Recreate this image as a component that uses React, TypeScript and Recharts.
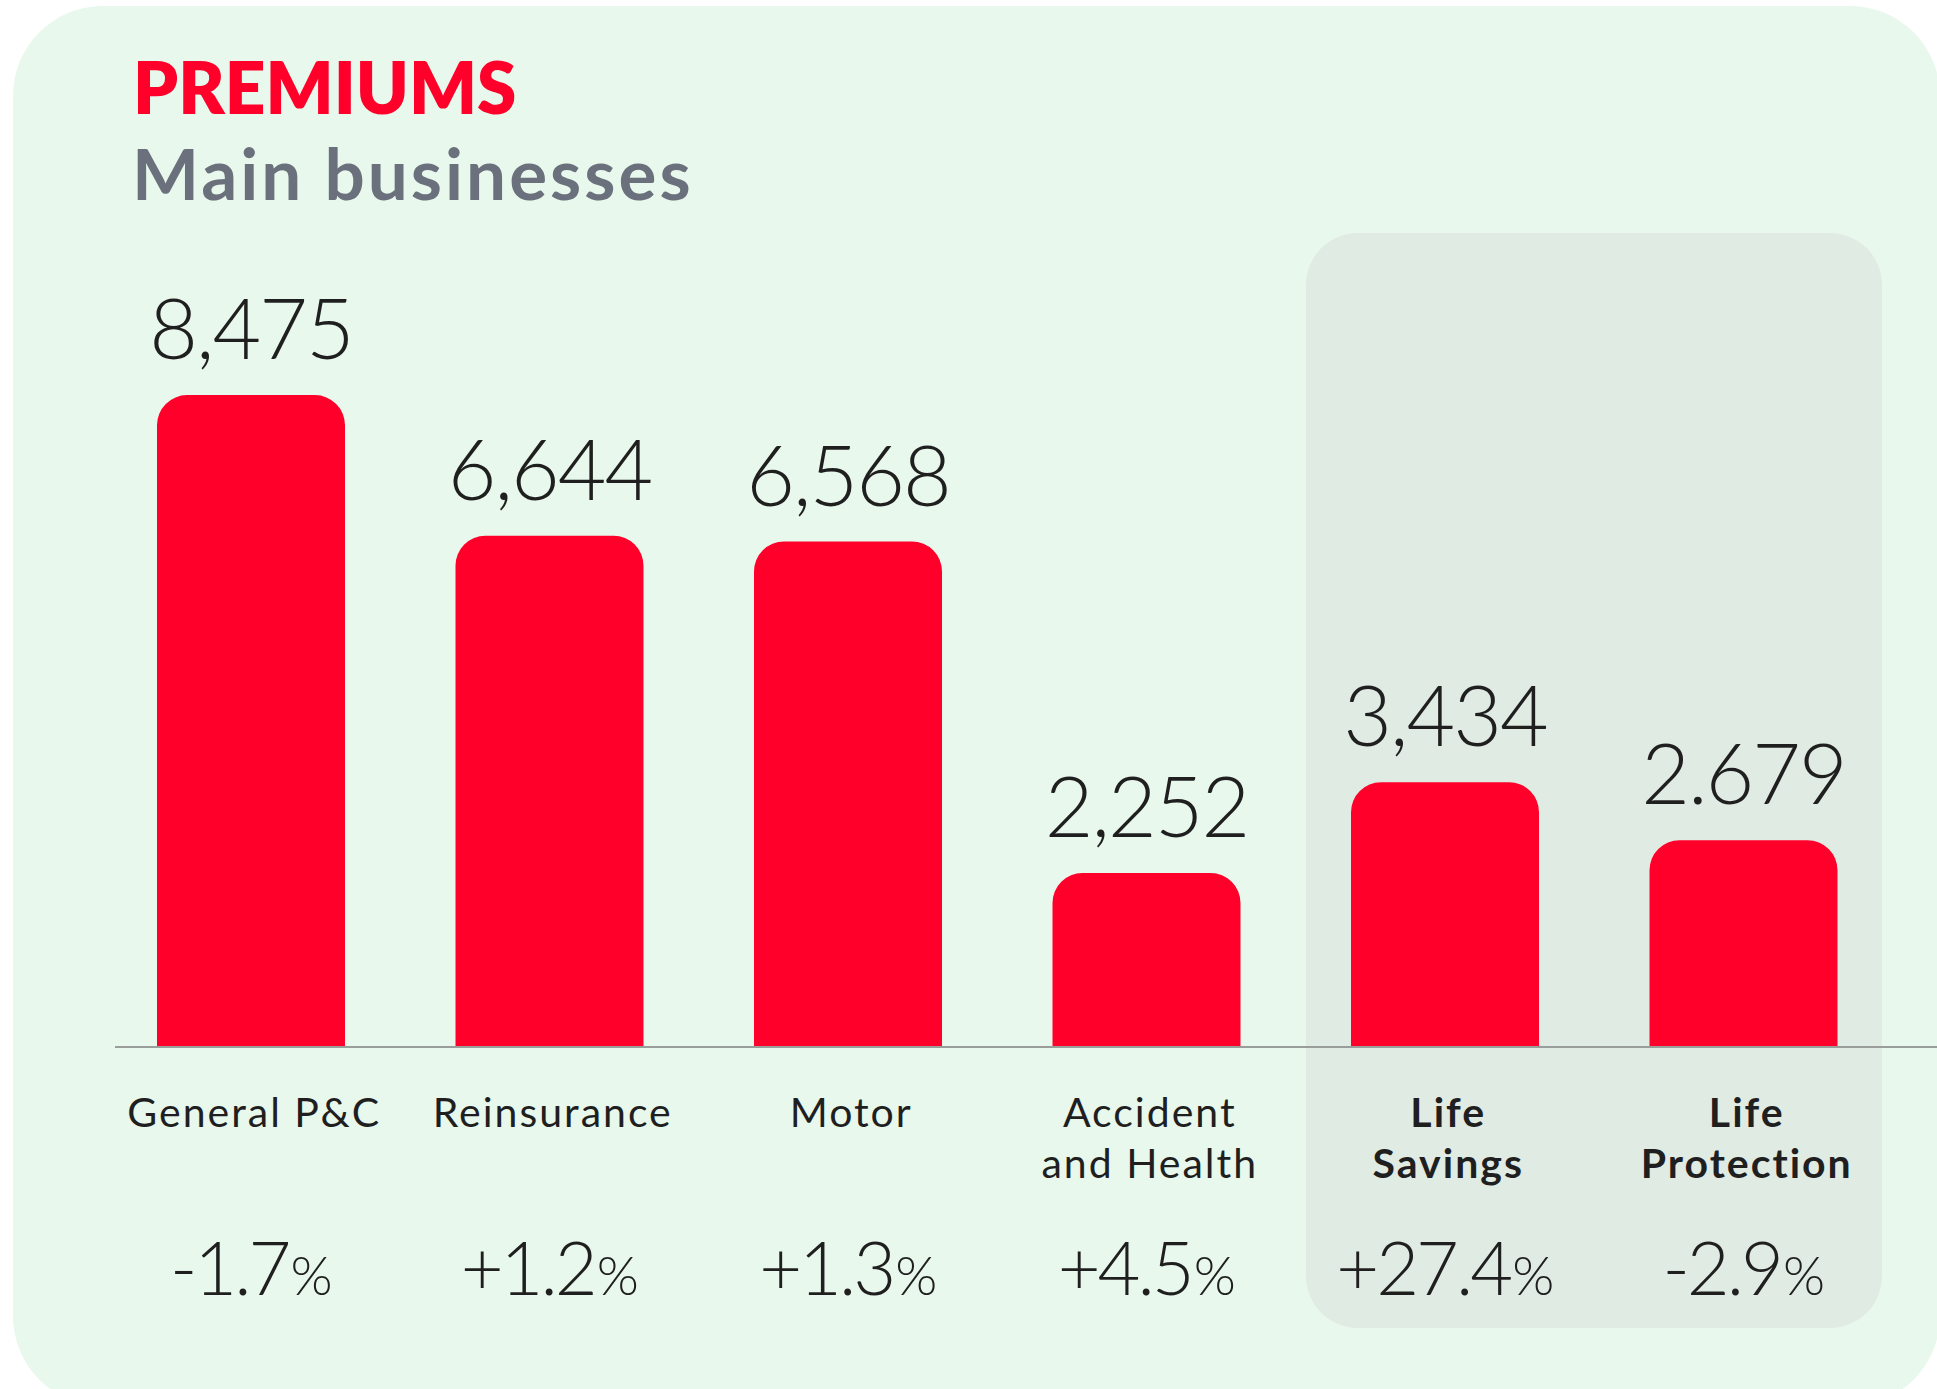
import React from 'react';
import { BarChart, Bar, XAxis, YAxis, LabelList } from 'recharts';

// Premiums by main business line
const categories = ['General P&C', 'Reinsurance', 'Motor', 'Accident\nand Health', 'Life\nSavings', 'Life\nProtection'];
const premiums = [8475, 6644, 6568, 2252, 3434, 2679];
const valueLabels = ['8,475', '6,644', '6,568', '2,252', '3,434', '2.679'];
const changes = ['-1.7', '+1.2', '+1.3', '+4.5', '+27.4', '-2.9'];
const boldCategories = ['Life\nSavings', 'Life\nProtection'];

const RED = '#ff002b';
const TEXT = '#1f1f1f';
const FONT = 'Lato, "Open Sans", sans-serif';

const data = categories.map((name, i) => ({
  name,
  value: premiums[i],
  label: valueLabels[i],
  change: changes[i],
}));

function CategoryTick(props: any) {
  const { x, y, payload, index } = props;
  const lines = String(payload.value).split('\n');
  const bold = boldCategories.includes(payload.value);
  return (
    <g>
      <text
        x={x}
        y={y}
        textAnchor="middle"
        fill={TEXT}
        fontFamily={FONT}
        fontSize={41}
        fontWeight={bold ? 700 : 400}
        letterSpacing={2}
      >
        {lines.map((line, i) => (
          <tspan key={i} x={x + 3} dy={i === 0 ? 81 : 51}>
            {line}
          </tspan>
        ))}
      </text>
      <text x={x} y={y + 249} textAnchor="middle" fill={TEXT} fontFamily={FONT} fontWeight={300}>
        <tspan fontSize={74} letterSpacing={-3}>{changes[index]}</tspan>
        <tspan fontSize={54} dx={2}>%</tspan>
      </text>
    </g>
  );
}

function ValueLabel(props: any) {
  const { x, y, width, value } = props;
  return (
    <text
      x={x + width / 2}
      y={y - 36}
      textAnchor="middle"
      fill={TEXT}
      fontFamily={FONT}
      fontWeight={300}
      fontSize={84}
      letterSpacing={-2}
    >
      {value}
    </text>
  );
}

export default function App() {
  return (
    <div
      style={{
        position: 'fixed',
        left: 0,
        top: 0,
        width: 1937,
        height: 1389,
        overflow: 'hidden',
        background: '#ffffff',
        fontFamily: FONT,
      }}
    >
      <div
        style={{
          position: 'absolute',
          left: 13,
          top: 6,
          width: 1927,
          height: 1400,
          borderRadius: 90,
          background: '#e8f8ec',
        }}
      />
      <div
        style={{
          position: 'absolute',
          left: 1306,
          top: 233,
          width: 576,
          height: 1095,
          borderRadius: 52,
          background: '#e0ebe3',
        }}
      />
      <div
        style={{
          position: 'absolute',
          left: 133,
          top: 47,
          fontSize: 71,
          fontWeight: 800,
          color: RED,
          lineHeight: '80px',
        }}
      >
        PREMIUMS
      </div>
      <div
        style={{
          position: 'absolute',
          left: 132,
          top: 133,
          fontSize: 71,
          fontWeight: 700,
          color: '#6a707c',
          lineHeight: '80px',
          letterSpacing: 3,
        }}
      >
        Main businesses
      </div>
      <div style={{ position: 'absolute', left: 0, top: 0 }}>
        <BarChart
          width={1937}
          height={1389}
          data={data}
          margin={{ top: 278, right: 44, bottom: 0, left: 102 }}
          barCategoryGap={0}
        >
          <XAxis
            dataKey="name"
            height={343}
            axisLine={false}
            tickLine={false}
            tickSize={0}
            tickMargin={0}
            interval={0}
            tick={<CategoryTick />}
          />
          <YAxis hide domain={[0, 10000]} />
          <Bar dataKey="value" fill={RED} barSize={188} radius={[30, 30, 0, 0]} isAnimationActive={false}>
            <LabelList dataKey="label" content={<ValueLabel />} />
          </Bar>
        </BarChart>
      </div>
      <div
        style={{
          position: 'absolute',
          left: 115,
          top: 1046,
          width: 1822,
          height: 2,
          background: '#9a9e9b',
        }}
      />
    </div>
  );
}
